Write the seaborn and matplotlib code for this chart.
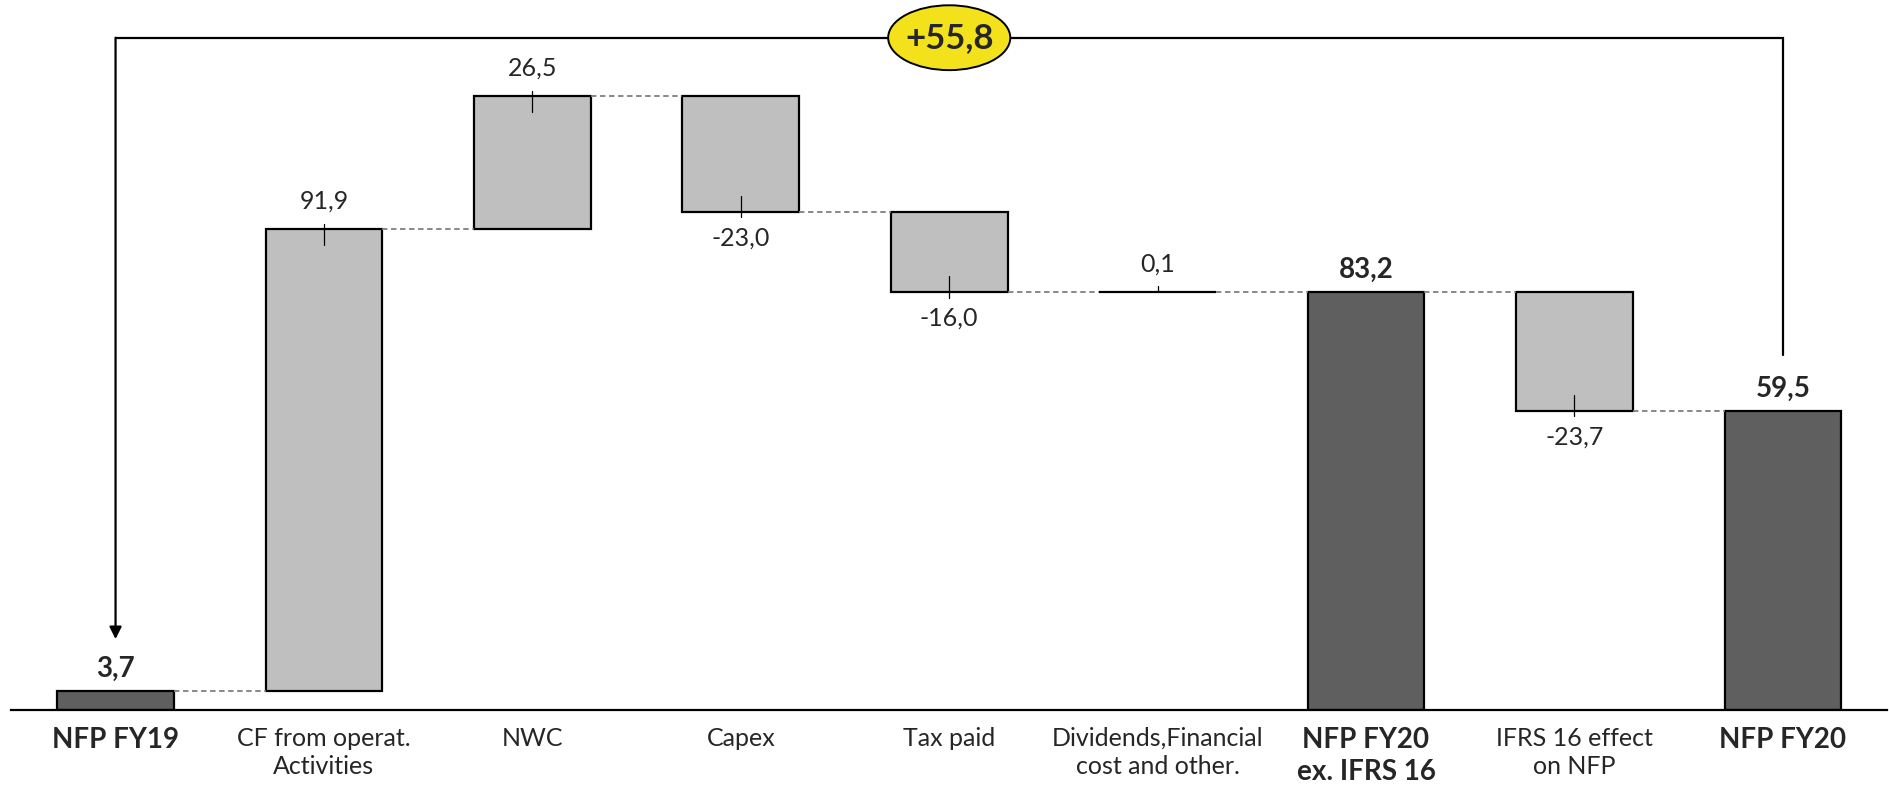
import numpy as np
import pandas as pd
import matplotlib
matplotlib.use("Agg")
import matplotlib.pyplot as plt
from matplotlib.patches import Ellipse
import seaborn as sns

# --- data -------------------------------------------------------------
steps = ["NFP FY19", "CF from operat.\nActivities", "NWC", "Capex", "Tax paid",
         "Dividends,Financial\ncost and other.", "NFP FY20\nex. IFRS 16",
         "IFRS 16 effect\non NFP", "NFP FY20"]
values = [3.7, 91.9, 26.5, -23.0, -16.0, 0.1, 83.2, -23.7, 59.5]
is_total = [True, False, False, False, False, False, True, False, True]
change_label = "+55,8"

# --- waterfall geometry -------------------------------------------------
starts, ends = [], []
level = 0.0
for v, tot in zip(values, is_total):
    if tot:
        starts.append(0.0)
        ends.append(v)
        level = v
    else:
        starts.append(level)
        level = level + v
        ends.append(level)
lows = [min(s, e) for s, e in zip(starts, ends)]
spans = [abs(e - s) for s, e in zip(starts, ends)]
kinds = ["total" if t else "delta" for t in is_total]

df = pd.DataFrame({"step": steps, "span": spans, "kind": kinds})

sns.set_theme(style="white")
plt.rcParams["font.family"] = ["Lato", "DejaVu Sans"]

fig = plt.figure(figsize=(18.89, 7.93), dpi=100)
ax = fig.add_axes([0.006, 0.1047, 0.993, 0.8953])

BAR_W = 0.56
DARK = "#5f5f5f"
LIGHT = "#bfbfbf"
FS = 18
FS_BOLD = 20
sns.barplot(data=df, x="step", y="span", hue="kind", order=steps,
            palette={"total": DARK, "delta": LIGHT}, dodge=False,
            width=BAR_W, edgecolor="black", linewidth=1.6, legend=False,
            saturation=1, ax=ax)

# lift floating bars to their running level
for p in ax.patches:
    i = int(round(p.get_x() + p.get_width() / 2))
    if 0 <= i < len(steps) and p.get_height() > 0:
        p.set_y(lows[i])
        p.set_height(spans[i])

ax.set_xlim(-0.5, 8.5)
ax.set_ylim(0, 141.2)

# dashed connectors between consecutive bars
for i in range(len(steps) - 1):
    ax.plot([i + BAR_W / 2, i + 1 - BAR_W / 2], [ends[i], ends[i]],
            ls=(0, (3, 2)), color="#7f7f7f", lw=1.3, zorder=1)

# value labels and small leader ticks
for i, (v, tot) in enumerate(zip(values, is_total)):
    txt = f"{abs(v):.1f}".replace(".", ",")
    if v < 0:
        txt = "-" + txt
    if tot:
        ax.annotate(txt, (i, ends[i]), xytext=(0, 16), textcoords="offset points",
                    ha="center", va="center", fontsize=FS_BOLD, fontweight="bold")
        continue
    inner = min(3.2, spans[i])
    if v >= 0:
        ax.plot([i, i], [ends[i] + 1.1, ends[i] - inner], color="black", lw=0.9, zorder=4)
        ax.annotate(txt, (i, ends[i]), xytext=(0, 20), textcoords="offset points",
                    ha="center", va="center", fontsize=FS)
    else:
        ax.plot([i, i], [ends[i] - 1.1, ends[i] + inner], color="black", lw=0.9, zorder=4)
        ax.annotate(txt, (i, ends[i]), xytext=(0, -19), textcoords="offset points",
                    ha="center", va="center", fontsize=FS)

# bracket showing the change between the two NFP totals
first, last = 0, len(steps) - 1
top = 133.7
ax.plot([last, last, first], [ends[last] + 11, top, top], color="black", lw=1.6,
        solid_joinstyle="miter", zorder=3)
ax.annotate("", xy=(first, ends[first] + 10.4), xytext=(first, top),
            arrowprops=dict(arrowstyle="-|>,head_length=0.6,head_width=0.3",
                            color="black", lw=1.6, shrinkA=0, shrinkB=0))
mid = (first + last) / 2
ax.add_patch(Ellipse((mid, top), width=0.586, height=12.9, facecolor="#f2e11b",
                     edgecolor="black", lw=1.4, zorder=5))
ax.text(mid, top, change_label, ha="center", va="center", fontsize=25,
        fontweight="bold", zorder=6)

# axes styling
for s in ["top", "left", "right"]:
    ax.spines[s].set_visible(False)
ax.spines["bottom"].set_color("black")
ax.spines["bottom"].set_linewidth(1.6)
ax.set_yticks([])
ax.set_xlabel("")
ax.set_ylabel("")
ax.tick_params(axis="x", length=0, pad=12, labelsize=FS)
for lbl, tot in zip(ax.get_xticklabels(), is_total):
    lbl.set_linespacing(1.3)
    lbl.set_verticalalignment("top")
    if tot:
        lbl.set_fontweight("bold")
        lbl.set_fontsize(FS_BOLD)

fig.savefig("out.png", dpi=100, facecolor="white")
